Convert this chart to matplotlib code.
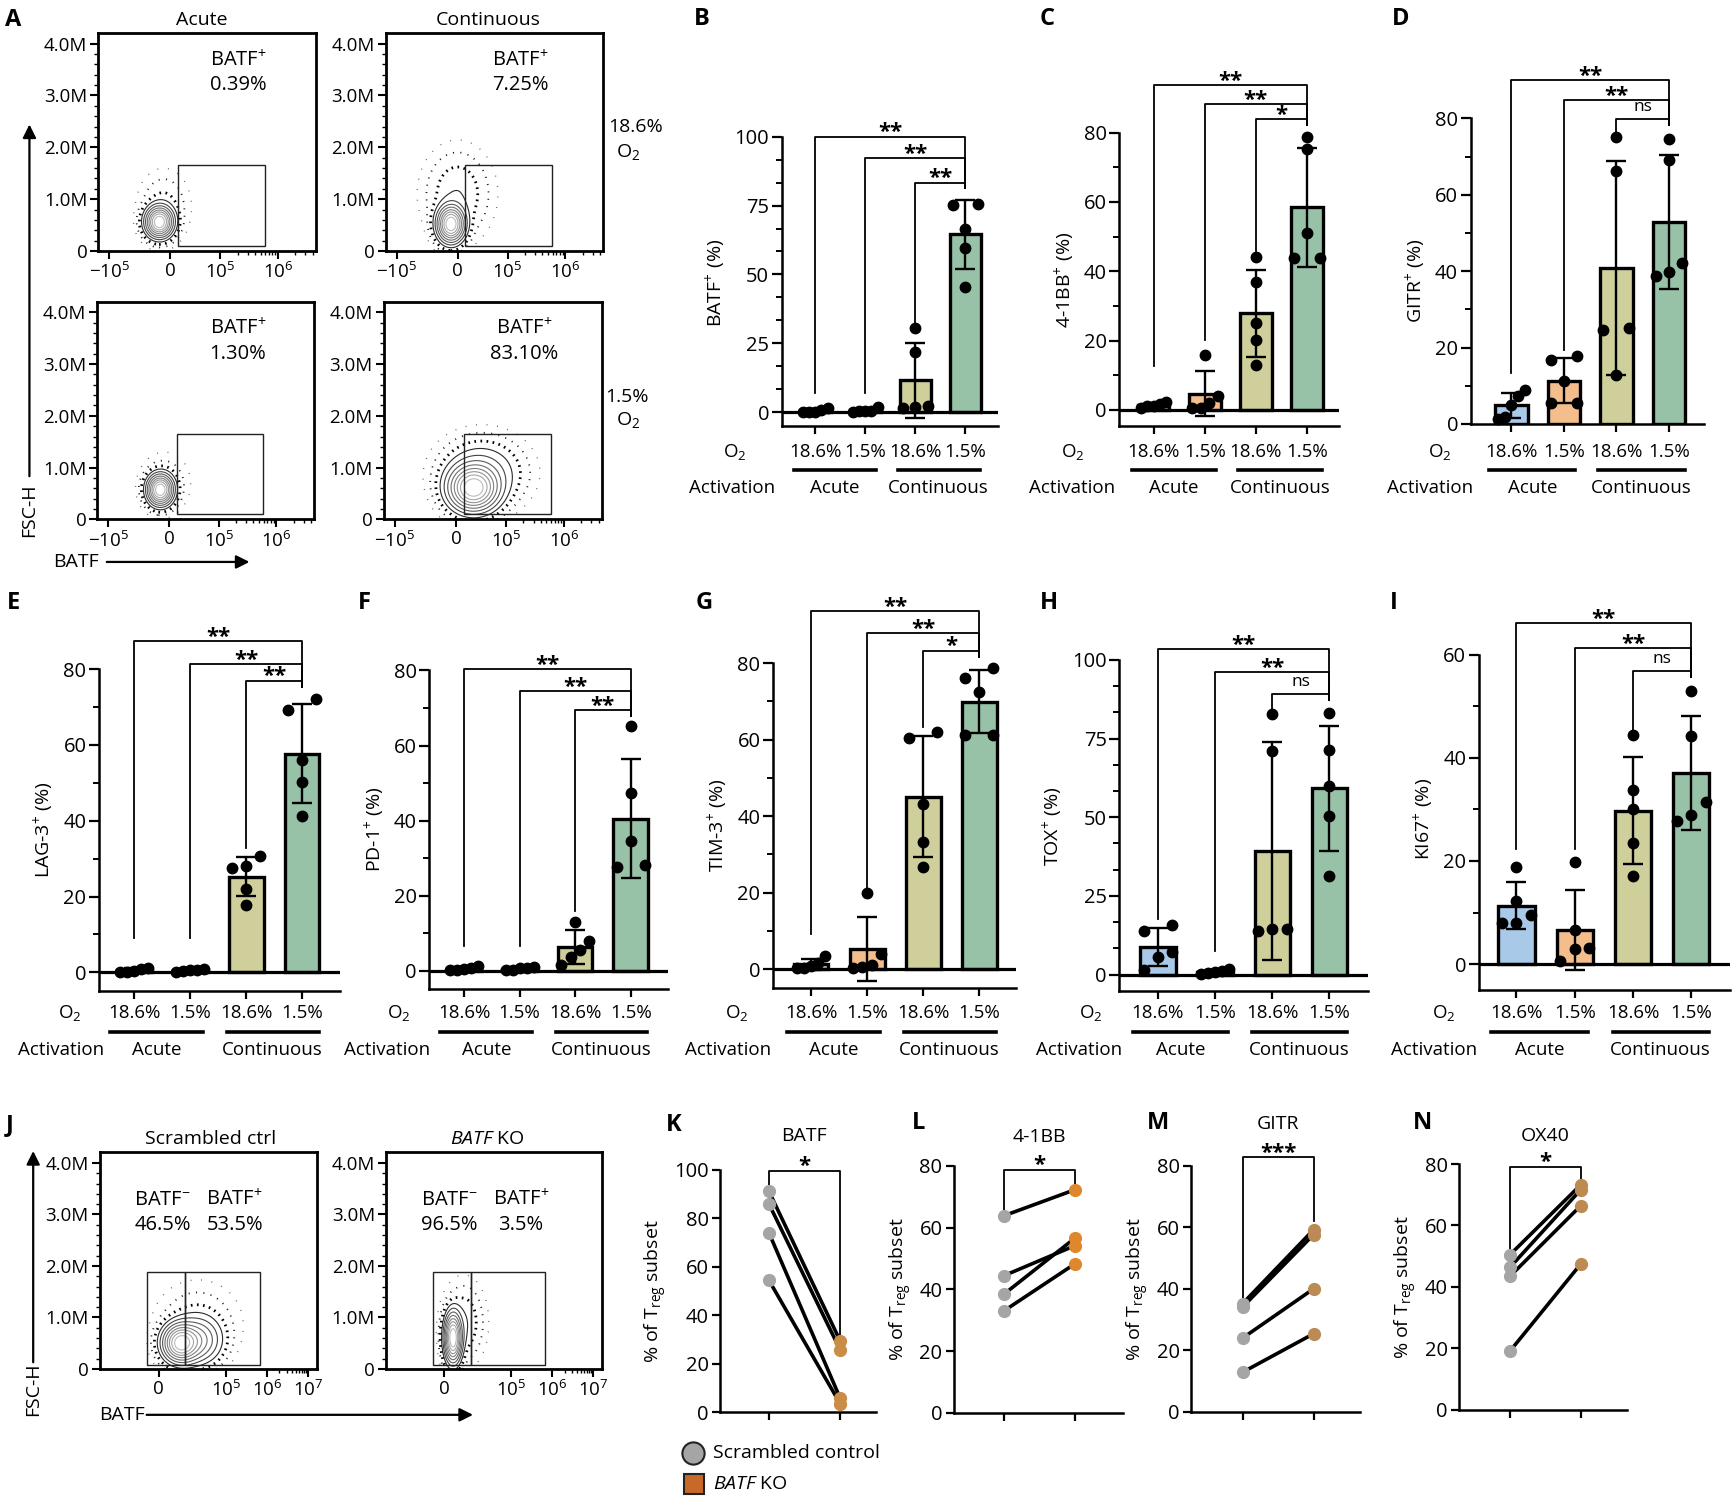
import numpy as np
import matplotlib
matplotlib.use("Agg")
import matplotlib.pyplot as plt
from matplotlib.lines import Line2D
from matplotlib.patches import Rectangle, FancyArrowPatch

plt.rcParams['font.family'] = ['Open Sans', 'DejaVu Sans']
plt.rcParams['mathtext.fontset'] = 'custom'
plt.rcParams['mathtext.rm'] = 'Open Sans'
plt.rcParams['mathtext.it'] = 'Open Sans:italic'
plt.rcParams['mathtext.bf'] = 'Open Sans:bold'

# ---------------- data ----------------
o2_levels = ['18.6%', '1.5%', '18.6%', '1.5%']
activation_groups = ['Acute', 'Continuous']
bar_colors = ['#a9c9e8', '#f3bd8c', '#cfcf9b', '#98c2a8']

# % positive cells per donor: [acute 18.6, acute 1.5, continuous 18.6, continuous 1.5]
batf_pos = [[0.0, 1.4, 0.1, 0.8, 0.2], [0.3, 1.8, 0.5, 0.6, 0.1],
            [30.5, 21.8, 1.5, 2.0, 2.2], [75.6, 75.2, 66.6, 59.5, 45.6]]
bb41_pos = [[1.0, 2.3, 1.6, 1.2, 0.5], [15.9, 4.0, 2.0, 0.5, 0.6],
            [44.0, 37.0, 25.2, 20.2, 12.8], [78.7, 75.3, 51.0, 43.8, 43.8]]
gitr_pos = [[8.9, 7.2, 5.0, 1.9, 1.2], [17.8, 16.8, 11.3, 5.4, 5.4],
            [75.2, 66.3, 25.0, 24.6, 12.8], [74.5, 69.1, 42.1, 38.6, 39.7]]
lag3_pos = [[0.2, 1.2, 0.4, 0.9, 0.1], [0.3, 0.8, 0.6, 0.5, 0.2],
            [30.6, 27.5, 28.1, 22.0, 17.9], [72.1, 69.3, 55.9, 50.1, 41.3]]
pd1_pos = [[0.3, 1.2, 0.5, 0.8, 0.1], [0.3, 0.9, 0.6, 0.8, 0.2],
           [13.1, 7.8, 5.6, 3.6, 1.6], [65.1, 47.3, 34.5, 27.6, 28.2]]
tim3_pos = [[3.5, 1.5, 0.2, 0.2, 0.8], [19.9, 4.0, 1.0, 0.5, 0.3],
            [61.9, 60.4, 43.2, 33.1, 26.7], [78.7, 76.2, 72.5, 61.2, 61.2]]
tox_pos = [[15.9, 13.8, 7.1, 5.6, 1.6], [1.8, 1.2, 0.9, 0.6, 0.3],
           [82.8, 71.1, 14.5, 13.8, 14.5], [83.1, 71.5, 59.8, 50.3, 31.2]]
ki67_pos = [[18.8, 12.3, 9.5, 8.0, 8.0], [19.9, 6.7, 3.1, 2.9, 0.5],
            [44.5, 33.7, 30.1, 23.5, 17.0], [53.0, 44.2, 31.4, 29.0, 27.7]]

# significance vs continuous 1.5% (from acute 18.6, acute 1.5, continuous 18.6)
batf_sig = ['**', '**', '**']
bb41_sig = ['**', '**', '*']
gitr_sig = ['**', '**', 'ns']
lag3_sig = ['**', '**', '**']
pd1_sig = ['**', '**', '**']
tim3_sig = ['**', '**', '*']
tox_sig = ['**', '**', 'ns']
ki67_sig = ['**', '**', 'ns']

# flow gates
flow_a_pct = ['0.39%', '7.25%', '1.30%', '83.10%']
flow_j_neg = ['46.5%', '96.5%']
flow_j_pos = ['53.5%', '3.5%']

# paired CRISPR KO (% of Treg subset)
k_ctrl = [91.2, 86.0, 74.1, 54.5]
k_ko = [29.5, 25.8, 5.9, 3.6]
l_ctrl = [63.8, 44.4, 38.4, 33.0]
l_ko = [72.2, 54.1, 56.5, 48.2]
m_ctrl = [35.2, 34.1, 24.0, 12.9]
m_ko = [59.2, 57.6, 40.0, 25.4]
n_ctrl = [50.4, 46.3, 43.4, 19.0]
n_ko = [73.2, 71.6, 66.4, 47.4]

# ---------------- figure helpers ----------------
W, H = 1568, 1356   # layout grid in reference pixels
fig = plt.figure(figsize=(17.35, 15.0), dpi=100)


def fx(x):
    return x / W


def fy(y):
    return 1 - y / H


def add_ax(l, t, r, b):
    ax = fig.add_axes([fx(l), fy(b), (r - l) / W, (b - t) / H])
    ax.patch.set_visible(False)
    return ax


def ftext(x, y, s, **kw):
    kw.setdefault('ha', 'center')
    kw.setdefault('va', 'center')
    kw.setdefault('fontsize', 13.5)
    fig.text(fx(x), fy(y), s, **kw)


def fline(xs, ys, **kw):
    fig.add_artist(Line2D([fx(v) for v in xs], [fy(v) for v in ys],
                          transform=fig.transFigure, **kw))


def farrow(p0, p1):
    fig.add_artist(FancyArrowPatch((fx(p0[0]), fy(p0[1])), (fx(p1[0]), fy(p1[1])),
                                   transform=fig.transFigure, arrowstyle='-|>',
                                   mutation_scale=20, lw=1.6, color='k'))


def swarm(vals, thr, half=0.25):
    vals = np.asarray(vals)
    order = np.argsort(vals)
    offs = np.zeros(len(vals))
    groups, cur = [], [order[0]]
    for a, b in zip(order[:-1], order[1:]):
        if vals[b] - vals[a] < thr:
            cur.append(b)
        else:
            groups.append(cur)
            cur = [b]
    groups.append(cur)
    for g in groups:
        if len(g) > 1:
            offs[g] = np.linspace(-half, half, len(g))
    return offs


# ---------------- bar panels B-I ----------------
row_y = [(408.2, 425.2, 441.3), (915.8, 933.0, 949.0)]
pairs = [(0, 3), (1, 3), (2, 3)]

bar_panels = [
    dict(letter='B', lpos=(634, 17), ylabel='BATF$^{+}$ (%)', data=batf_pos, sig=batf_sig,
         spine=706.5, bar1=736.6, sp=45.2, right=902, y0=372.7, ytop=123.5, top=100, major=25,
         minor=25 / 3, ylo=-5, row=0, o2x=-1.6, actx=-1.65,
         br_y=[100.0, 92.1, 83.3], br_left=[6.9, 6.9, 31.0]),
    dict(letter='C', lpos=(946, 17), ylabel='4-1BB$^{+}$ (%)', data=bb41_pos, sig=bb41_sig,
         spine=1011.7, bar1=1042.6, sp=46.2, right=1210, y0=370.5, ytop=119.9, top=80, major=20,
         minor=10, ylo=-4.6, row=0, o2x=-1.59, actx=-1.59,
         br_y=[93.8, 88.3, 83.9], br_left=[12.7, 20.2, 45.7]),
    dict(letter='D', lpos=(1266, 17), ylabel='GITR$^{+}$ (%)', data=gitr_pos, sig=gitr_sig,
         spine=1329, bar1=1366, sp=47.4, right=1540, y0=383.2, ytop=107, top=80, major=20,
         minor=10, ylo=0, row=0, o2x=-1.37, actx=-1.55,
         br_y=[90.1, 84.8, 79.8], br_left=[13.3, 19.4, 76.5]),
    dict(letter='E', lpos=(12, 545), ylabel='LAG-3$^{+}$ (%)', data=lag3_pos, sig=lag3_sig,
         spine=89.4, bar1=121.5, sp=50.5, right=307.4, y0=879, ytop=604.9, top=80, major=20,
         minor=10, ylo=-5, row=1, o2x=-1.16, actx=-1.32,
         br_y=[87.5, 81.4, 77.0], br_left=[9.1, 9.1, 32.8]),
    dict(letter='F', lpos=(329, 545), ylabel='PD-1$^{+}$ (%)', data=pd1_pos, sig=pd1_sig,
         spine=388, bar1=419.4, sp=50.2, right=603.7, y0=877.5, ytop=606.1, top=80, major=20,
         minor=10, ylo=-4.9, row=1, o2x=-1.17, actx=-1.38,
         br_y=[80.4, 74.4, 69.4], br_left=[6.5, 6.5, 15.8]),
    dict(letter='G', lpos=(636, 545), ylabel='TIM-3$^{+}$ (%)', data=tim3_pos, sig=tim3_sig,
         spine=698.5, bar1=733, sp=50.7, right=918.6, y0=876, ytop=599.5, top=80, major=20,
         minor=10, ylo=-5, row=1, o2x=-1.32, actx=-1.48,
         br_y=[93.6, 87.8, 83.3], br_left=[9.1, 20.7, 63.4]),
    dict(letter='H', lpos=(948, 545), ylabel='TOX$^{+}$ (%)', data=tox_pos, sig=tox_sig,
         spine=1011.7, bar1=1046.4, sp=51.7, right=1236.2, y0=881, ytop=596.5, top=100, major=25,
         minor=25 / 3, ylo=-5.1, row=1, o2x=-1.18, actx=-1.38,
         br_y=[103.4, 96.1, 89.1], br_left=[17.5, 7.4, 84.3]),
    dict(letter='I', lpos=(1260, 545), ylabel='KI67$^{+}$ (%)', data=ki67_pos, sig=ki67_sig,
         spine=1336.5, bar1=1370.5, sp=52.7, right=1563.3, y0=871.5, ytop=592, top=60, major=20,
         minor=10, ylo=-5, row=1, o2x=-1.25, actx=-1.42,
         br_y=[66.1, 61.4, 56.9], br_left=[22.3, 22.3, 45.4]),
]


def bar_panel(p):
    sp, b1, top, ylo = p['sp'], p['bar1'], p['top'], p['ylo']
    ppu = (p['y0'] - p['ytop']) / top
    yhi = top * 1.3
    ax = add_ax(p['spine'], p['y0'] - yhi * ppu, p['right'], p['y0'] - ylo * ppu)
    ax.set_xlim((p['spine'] - b1) / sp, (p['right'] - b1) / sp)
    ax.set_ylim(ylo, yhi)
    x = np.arange(4)
    means = [np.mean(v) for v in p['data']]
    sds = [np.std(v, ddof=1) for v in p['data']]
    ax.bar(x, means, width=0.62, color=bar_colors, edgecolor='k', linewidth=2.4, zorder=2)
    ax.errorbar(x, means, yerr=sds, fmt='none', ecolor='k', elinewidth=1.7,
                capsize=7, capthick=1.7, zorder=3)
    if ylo < 0:
        ax.axhline(0, color='k', lw=2.3, zorder=3)
    thr = 0.04 * (top - ylo)
    for i, v in enumerate(p['data']):
        ax.plot(i + swarm(v, thr), v, 'o', ms=7.5, color='k', zorder=4, clip_on=False)

    for s in ['top', 'right']:
        ax.spines[s].set_visible(False)
    ax.spines['left'].set_bounds(ylo, top)
    ax.spines['left'].set_linewidth(1.8)
    ax.spines['bottom'].set_linewidth(1.8)
    majors = np.arange(0, top + 0.1, p['major'])
    ax.set_yticks(majors)
    ax.set_yticklabels([f'{t:g}' for t in majors], fontsize=14.5)
    mt = np.arange(-3 * p['minor'], top, p['minor'])
    mt = [t for t in mt if t >= ylo - 1e-6 and abs(t / p['major'] - round(t / p['major'])) > 1e-3]
    ax.set_yticks(mt, minor=True)
    ax.tick_params(axis='y', which='major', length=7, width=1.6, direction='out', pad=2)
    ax.tick_params(axis='y', which='minor', length=4, width=1.4, direction='out')
    ax.set_xticks(x)
    ax.set_xticklabels([])
    ax.tick_params(axis='x', length=6, width=1.6, direction='out')
    ax.set_ylabel(p['ylabel'], fontsize=14, labelpad=5)
    ax.yaxis.label.set_y((top * 0.47 - ylo) / (yhi - ylo))

    rb = min(p['br_y']) - 0.02 * top
    for (i, j), h, lb, s in zip(pairs, p['br_y'], p['br_left'], p['sig']):
        ax.plot([i, i, j, j], [lb, h, h, rb], color='k', lw=1.3, clip_on=False, zorder=5)
        if s == 'ns':
            ax.text((i + j) / 2, h + 0.012 * top, s, ha='center', va='bottom', fontsize=12.5)
        else:
            ax.text((i + j) / 2, h - 0.006 * top, s, ha='center', va='baseline',
                    fontsize=16, fontweight='bold')

    oy, ly, ay = row_y[p['row']]
    for i, lab in enumerate(o2_levels):
        ftext(b1 + i * sp, oy, lab, fontsize=13.5)
    ftext(b1 + p['o2x'] * sp, oy, 'O$_2$', fontsize=13.5)
    ftext(b1 + p['actx'] * sp, ay, 'Activation', fontsize=13.5)
    for (a, b), name, c in zip([(-0.43, 1.22), (1.65, 3.3)], activation_groups, [0.4, 2.47]):
        fline([b1 + a * sp, b1 + b * sp], [ly, ly], color='k', lw=2.6)
        ftext(b1 + c * sp, ay, name, fontsize=13.5)
    ftext(p['lpos'][0], p['lpos'][1], p['letter'], fontsize=17, fontweight='bold')


for p in bar_panels:
    bar_panel(p)

# ---------------- flow plots A and J ----------------
flow_grays = ['#2a2a2a', '#444444', '#5a5a5a', '#6e6e6e', '#808080', '#939393', '#a6a6a6', '#bbbbbb']


def flow_panel(box, xt, xtl, comps, gate_x, gate_y, top_val=4.2):
    l, t, r, b = box
    ax = add_ax(l, t, r, b)
    ax.set_xlim(0, 1)
    ax.set_ylim(0, top_val)
    gx, gy = np.meshgrid(np.linspace(0, 1, 360), np.linspace(0, top_val, 360))
    dens = np.zeros_like(gx)
    for cx, cy, sx, sy, w in comps:
        dens += w * np.exp(-0.5 * (((gx - cx) / sx) ** 2 + ((gy - cy) / sy) ** 2))
    m = dens.max()
    lv = m * np.array([0.06, 0.11, 0.18, 0.27, 0.38, 0.5, 0.64, 0.8])
    ax.contour(gx, gy, dens, levels=lv, colors=flow_grays, linewidths=0.8)
    # sparse outlier events around the population
    ax.contour(gx, gy, dens, levels=[m * 0.03], colors='k', linewidths=2.0,
               linestyles=[(0, (0.6, 1.6))])
    ax.contour(gx, gy, dens, levels=[m * 0.012], colors='#222222', linewidths=1.3,
               linestyles=[(0, (0.6, 3.5))])
    ax.contour(gx, gy, dens, levels=[m * 0.004], colors='#555555', linewidths=1.0,
               linestyles=[(0, (0.6, 7))])
    for k in range(len(gate_x) - 1):
        ax.add_patch(Rectangle((gate_x[k], gate_y[0]), gate_x[k + 1] - gate_x[k],
                               gate_y[1] - gate_y[0], fill=False, lw=1.0, ec='#222222', zorder=5))
    for s in ax.spines.values():
        s.set_linewidth(2.0)
    ax.set_yticks([0, 1, 2, 3, 4])
    ax.set_yticklabels(['0', '1.0M', '2.0M', '3.0M', '4.0M'], fontsize=13.5)
    ax.set_yticks(np.arange(0.2, 4.2, 0.2), minor=True)
    ax.set_xticks(xt)
    ax.set_xticklabels(xtl, fontsize=13.5)
    step = xt[-1] - xt[-2]
    mx = [xt[-2] + step * np.log10(k) for k in range(2, 10)]
    mx += [xt[-1] + step * np.log10(k) for k in range(2, 10) if xt[-1] + step * np.log10(k) < 1]
    ax.set_xticks(mx, minor=True)
    ax.tick_params(which='major', length=6, width=1.5, direction='out', pad=2)
    ax.tick_params(which='minor', length=3, width=1.0, direction='out')
    return ax


a_ticks = [0.05, 0.33, 0.56, 0.825]
a_labels = ['$-10^{5}$', '0', '$10^{5}$', '$10^{6}$']
a_boxes = [(89, 30, 285.5, 227), (348.5, 30, 545.4, 227), (88, 273, 284, 469.5), (347, 273, 544, 469.5)]
a_clouds = [
    [(0.28, 0.56, 0.034, 0.16, 1.0), (0.30, 0.85, 0.06, 0.35, 0.04)],
    [(0.30, 0.52, 0.034, 0.19, 1.0), (0.33, 1.1, 0.08, 0.45, 0.06)],
    [(0.29, 0.57, 0.032, 0.16, 1.0), (0.31, 0.7, 0.06, 0.3, 0.03)],
    [(0.41, 0.60, 0.062, 0.24, 1.0), (0.45, 0.9, 0.1, 0.35, 0.15)],
]
for box, comps in zip(a_boxes, a_clouds):
    flow_panel(box, a_ticks, a_labels, comps, [0.365, 0.765], [0.1, 1.65])

a_text_pos = [(215, 55, 76.9), (470.5, 55, 76.9), (215, 297.6, 320), (473.5, 297.6, 320)]
for (x, y1, y2), pct in zip(a_text_pos, flow_a_pct):
    ftext(x, y1, 'BATF$^{+}$', fontsize=14.5)
    ftext(x, y2, pct, fontsize=14.5)
ftext(182, 18, 'Acute', fontsize=14)
ftext(441, 18, 'Continuous', fontsize=14)
ftext(574, 115, '18.6%', fontsize=14)
ftext(568, 137, 'O$_2$', fontsize=14)
ftext(567, 359, '1.5%', fontsize=14)
ftext(568, 380, 'O$_2$', fontsize=14)
farrow((26.6, 433), (26.6, 110))
ftext(26.6, 461, 'FSC-H', rotation=90, fontsize=14)
ftext(68.5, 508, 'BATF', fontsize=14)
farrow((94, 508), (228, 508))
ftext(12, 18, 'A', fontsize=17, fontweight='bold')

j_ticks = [0.27, 0.58, 0.77, 0.96]
j_labels = ['0', '$10^{5}$', '$10^{6}$', '$10^{7}$']
j_boxes = [(90.3, 1041.5, 286.5, 1237.5), (348.9, 1041.5, 544, 1237.5)]
j_clouds = [
    [(0.37, 0.5, 0.045, 0.2, 1.0), (0.45, 0.55, 0.06, 0.25, 0.35), (0.45, 0.9, 0.1, 0.4, 0.04)],
    [(0.31, 0.6, 0.022, 0.26, 1.0), (0.36, 0.9, 0.05, 0.4, 0.06)],
]
for box, comps in zip(j_boxes, j_clouds):
    flow_panel(box, j_ticks, j_labels, comps, [0.218, 0.393, 0.737], [0.07, 1.88], top_val=4.21)

for x0, neg, pos in zip([147.1, 405.8], flow_j_neg, flow_j_pos):
    ftext(x0, 1084.5, 'BATF$^{-}$', fontsize=14.5)
    ftext(x0, 1107, neg, fontsize=14.5)
    ftext(x0 + 65, 1084.5, 'BATF$^{+}$', fontsize=14.5)
    ftext(x0 + 65, 1107, pos, fontsize=14.5)
ftext(190, 1030, 'Scrambled ctrl', fontsize=14)
ftext(440, 1030, r'$\it{BATF}$ KO', fontsize=14)
farrow((30, 1234), (30, 1038))
ftext(30, 1256, 'FSC-H', rotation=90, fontsize=14)
ftext(110, 1279, 'BATF', fontsize=14)
farrow((130, 1279), (430, 1279))
ftext(9, 1017, 'J', fontsize=17, fontweight='bold')

# ---------------- paired panels K-N ----------------
paired_panels = [
    dict(letter='K', lpos=(608.6, 1017), title='BATF', ctrl=k_ctrl, ko=k_ko, sig='*',
         ko_color='#c98d47', spine=650.7, px0=694.8, px1=759.2, right=792, y0=1276.7,
         ytop=1057.4, top=100, br=(99.6, 92.9, 31.1), title_y=113.7),
    dict(letter='L', lpos=(829.7, 1015), title='4-1BB', ctrl=l_ctrl, ko=l_ko, sig='*',
         ko_color='#df872c', spine=861.8, px0=907.2, px1=971.2, right=1014.6, y0=1277.3,
         ytop=1053.8, top=80, br=(78.7, 64.7, 73.8), title_y=89.4),
    dict(letter='M', lpos=(1046.6, 1015), title='GITR', ctrl=m_ctrl, ko=m_ko, sig='***',
         ko_color='#bb8a55', spine=1076.2, px0=1123, px1=1187.1, right=1228.9, y0=1276.4,
         ytop=1053.8, top=80, br=(82.7, 35.9, 61.9), title_y=93.5),
    dict(letter='N', lpos=(1285.6, 1015), title='OX40', ctrl=n_ctrl, ko=n_ko, sig='*',
         ko_color='#bd8a52', spine=1318.6, px0=1364.5, px1=1428.5, right=1470.4, y0=1274.3,
         ytop=1052.3, top=80, br=(79.2, 51.5, 74.3), title_y=89.0),
]


def paired_panel(p):
    u = p['px1'] - p['px0']
    ppu = (p['y0'] - p['ytop']) / p['top']
    yhi = p['top'] * 1.25
    ax = add_ax(p['spine'], p['y0'] - yhi * ppu, p['right'], p['y0'])
    ax.set_xlim((p['spine'] - p['px0']) / u, (p['right'] - p['px0']) / u)
    ax.set_ylim(0, yhi)
    for c, k in zip(p['ctrl'], p['ko']):
        ax.plot([0, 1], [c, k], color='k', lw=2.6, zorder=2, solid_capstyle='round')
    ax.plot(np.zeros(len(p['ctrl'])), p['ctrl'], 'o', ms=8.5, color='#a5a5a5', zorder=3, clip_on=False)
    ax.plot(np.ones(len(p['ko'])), p['ko'], 'o', ms=8.5, color=p['ko_color'], zorder=3, clip_on=False)
    for s in ['top', 'right']:
        ax.spines[s].set_visible(False)
    ax.spines['left'].set_bounds(0, p['top'])
    ax.spines['left'].set_linewidth(1.8)
    ax.spines['bottom'].set_linewidth(1.8)
    ticks = np.arange(0, p['top'] + 1, 20)
    ax.set_yticks(ticks)
    ax.set_yticklabels([f'{t:g}' for t in ticks], fontsize=14.5)
    ax.set_xticks([0, 1])
    ax.set_xticklabels([])
    ax.tick_params(length=6, width=1.6, direction='out', pad=2)
    h, lb, rb = p['br']
    ax.plot([0, 0, 1, 1], [lb, h, h, rb], color='k', lw=1.3, clip_on=False)
    ax.text(0.5, h - 0.006 * p['top'], p['sig'], ha='center', va='baseline',
            fontsize=16, fontweight='bold')
    ax.text(0.5, p['title_y'], p['title'], ha='center', va='center', fontsize=14)
    ax.set_ylabel('% of T$_{\\mathrm{reg}}$ subset', fontsize=14, labelpad=4)
    ax.yaxis.label.set_y(0.5 * p['top'] / yhi)
    ftext(p['lpos'][0], p['lpos'][1], p['letter'], fontsize=17, fontweight='bold')


for p in paired_panels:
    paired_panel(p)

# legend
fig.add_artist(Line2D([fx(626.6)], [fy(1313.5)], marker='o', ms=16, mfc='#a5a5a5', mec='#222222',
                      mew=1.5, transform=fig.transFigure))
fig.add_artist(Line2D([fx(627.5)], [fy(1341.2)], marker='s', ms=14.5, mfc='#c8692a', mec='#222222',
                      mew=1.5, transform=fig.transFigure))
ftext(644.7, 1313.5, 'Scrambled control', ha='left', fontsize=14)
ftext(644.7, 1341.2, r'$\it{BATF}$ KO', ha='left', fontsize=14)

fig.savefig('out.png', dpi=100)
